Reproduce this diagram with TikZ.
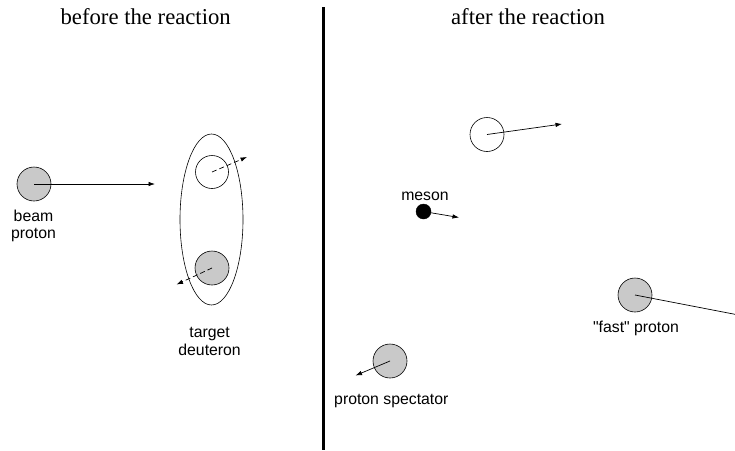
\documentclass[tikz,border=0pt]{standalone}
\usepackage{fontspec}
\setmainfont{Liberation Serif}
\setsansfont{Liberation Sans}
\usetikzlibrary{arrows.meta,shapes.geometric}
\begin{document}
\begin{tikzpicture}[x=1pt,y=-1pt,
  particle/.style={circle,draw,line width=0.6pt,minimum size=34pt,inner sep=0pt},
  proton/.style={particle,fill=gray!42},
  neutron/.style={particle,fill=white},
  lbl/.style={font=\sffamily\fontsize{15.8}{18}\selectfont,inner sep=0pt,anchor=base},
  head/.style={font=\rmfamily\fontsize{22.7}{26}\selectfont,inner sep=0pt,anchor=base},
  mom/.style={line width=0.7pt,-{Latex[length=6.5pt,width=4.5pt]}},
  dmom/.style={mom,dash pattern=on 5pt off 3pt}]
\useasboundingbox (0,0) rectangle (735,450);
% headings
\node[head] (h1) at (145.7,24) {before the reaction};
\node[head] (h2) at (528,24) {after the reaction};
% divider
\coordinate (dtop) at (323.5,7);
\coordinate (dbot) at (323.5,450);
\draw[line width=2.6pt] (dtop) -- (dbot);
% before
\node[proton] (bp) at (34,184) {};
\coordinate (bpe) at (155,184);
\draw[mom] (bp.center) -- (bpe);
\node[lbl] (bpl1) at (33.5,221) {beam};
\node[lbl] (bpl2) at (33.5,238) {proton};
\node[draw,ellipse,line width=0.6pt,minimum width=63pt,minimum height=171pt,inner sep=0pt] (deut) at (211.5,219.5) {};
\node[neutron,minimum size=33pt] (tn) at (212,172) {};
\coordinate (tne) at (247,157);
\draw[dmom] (tn.center) -- (tne);
\node[proton] (tp) at (212,268) {};
\coordinate (tpe) at (176.5,284.5);
\draw[dmom] (tp.center) -- (tpe);
\node[lbl] (tl1) at (209.6,337) {target};
\node[lbl] (tl2) at (209.6,355) {deuteron};
% after
\node[neutron] (an) at (487,134.5) {};
\coordinate (ane) at (562,124);
\draw[mom] (an.center) -- (ane);
\node[circle,fill=black,draw,minimum size=15pt,inner sep=0pt] (mes) at (423.5,211.5) {};
\coordinate (mese) at (459,217.5);
\draw[mom] (mes.center) -- (mese);
\node[lbl] (mesl) at (425,200) {meson};
\node[proton] (sp) at (390,361) {};
\coordinate (spe) at (355.5,375.5);
\draw[mom] (sp.center) -- (spe);
\node[lbl] (spl) at (391.3,404) {proton spectator};
\node[proton] (fp) at (635,295) {};
\coordinate (fpe) at (736,314.5);
\draw[line width=0.7pt] (fp.center) -- (fpe);
\node[lbl] (fpl) at (636,332.5) {\textquotedbl fast\textquotedbl{} proton};
\end{tikzpicture}
\end{document}
